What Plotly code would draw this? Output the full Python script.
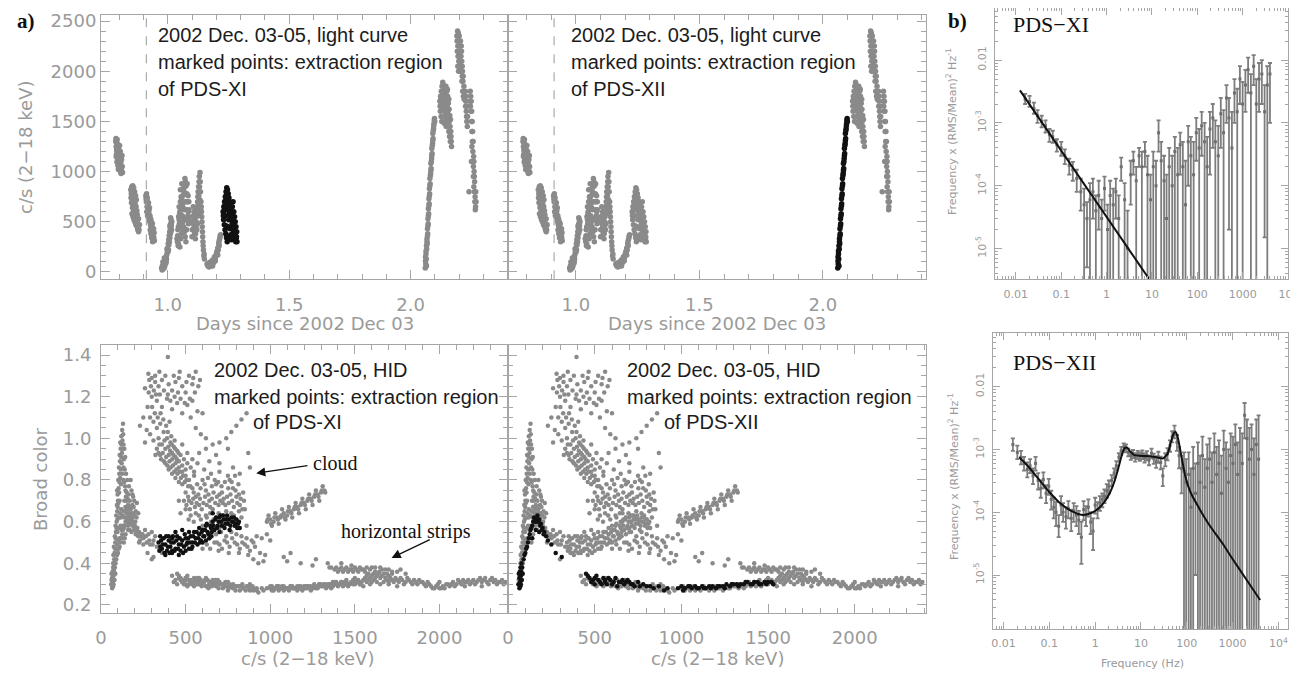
import plotly.graph_objects as go

# The page body adds an 8 px margin, so the figure is 8 px smaller and positions are shifted.
OFF = 8
W, H = 1298 - OFF, 675 - OFF

# ---------------- light curve: (days since 2002 Dec 03, c/s 2-18 keV) ----------------
LC_GRAY_A = [
    (0.787,1330),(0.789,1300),(0.791,1280),(0.788,1250),(0.792,1230),(0.790,1210),(0.794,1190),(0.789,1170),
    (0.796,1150),(0.793,1130),(0.798,1110),(0.791,1095),(0.800,1080),(0.795,1060),(0.803,1040),(0.797,1020),
    (0.806,1000),(0.808,980),(0.810,1120),(0.812,1160),(0.805,1200),(0.802,1260),(0.807,1090),(0.813,1050),
    (0.848,820),(0.852,850),(0.856,860),(0.860,840),(0.864,800),(0.850,780),(0.854,750),(0.858,720),(0.862,700),
    (0.866,680),(0.870,650),(0.851,690),(0.855,640),(0.859,600),(0.863,620),(0.867,580),(0.872,560),(0.857,550),
    (0.861,520),(0.865,500),(0.869,470),(0.874,450),(0.877,420),(0.880,400),(0.875,520),(0.878,480),(0.868,760),
    (0.871,720),(0.853,580),(0.873,610),
    (0.910,760),(0.913,780),(0.916,740),(0.912,700),(0.918,680),(0.915,650),(0.920,620),(0.914,600),(0.922,580),
    (0.917,560),(0.924,530),(0.926,500),(0.929,470),(0.932,450),(0.928,420),(0.935,400),(0.931,380),(0.938,360),
    (0.934,340),(0.940,320),(0.937,480),(0.942,430),(0.944,390),(0.921,690),
    (0.975,40),(0.978,60),(0.981,30),(0.984,80),(0.980,100),(0.987,50),(0.990,120),(0.986,140),(0.993,90),
    (0.996,170),(0.998,200),(1.000,240),(1.002,280),(1.004,320),(1.006,360),(1.008,400),(1.010,440),(1.012,480),
    (1.014,520),(1.007,300),(1.011,380),(1.016,420),(1.009,460),(1.003,220),(0.995,130),
    (1.040,300),(1.043,260),(1.046,350),(1.042,420),(1.048,480),(1.045,550),(1.050,600),(1.047,650),(1.052,700),
    (1.055,750),(1.058,720),(1.061,680),(1.064,640),(1.067,800),(1.070,850),(1.073,900),(1.076,860),(1.079,780),
    (1.082,700),(1.085,600),(1.088,500),(1.060,560),(1.063,500),(1.066,450),(1.069,400),(1.072,350),(1.075,300),
    (1.078,420),(1.081,520),(1.057,380),(1.054,330),(1.084,760),(1.087,620),(1.071,930),
    (1.100,350),(1.103,420),(1.106,480),(1.102,550),(1.108,600),(1.105,650),(1.110,520),(1.112,400),(1.114,330),
    (1.116,450),(1.118,550),(1.121,650),(1.124,750),(1.127,850),(1.130,950),(1.133,990),(1.129,900),(1.135,800),
    (1.137,700),(1.139,600),(1.141,500),(1.143,400),(1.145,300),(1.147,220),(1.149,160),(1.151,130),(1.132,720),
    (1.136,620),(1.126,580),(1.122,480),
    (1.162,80),(1.166,60),(1.170,50),(1.174,70),(1.178,60),(1.182,80),(1.186,100),(1.190,110),(1.194,130),
    (1.198,160),(1.202,200),(1.206,240),(1.210,280),(1.213,320),(1.216,360),(1.168,90),(1.176,100),(1.184,120),
    (1.192,150),(1.200,180),(1.208,220),(1.212,260),
    (2.120,1700),(2.123,1750),(2.126,1800),(2.129,1850),(2.132,1890),(2.135,1860),(2.138,1820),(2.141,1780),
    (2.144,1740),(2.147,1700),(2.150,1650),(2.153,1600),(2.156,1550),(2.159,1500),(2.162,1450),(2.165,1400),
    (2.167,1300),(2.168,1250),(2.122,1600),(2.125,1550),(2.128,1500),(2.131,1650),(2.134,1700),(2.137,1600),
    (2.140,1550),(2.143,1500),(2.146,1450),(2.149,1800),(2.152,1750),(2.155,1680),(2.158,1620),(2.161,1560),
    (2.164,1520),
    (2.190,2350),(2.193,2400),(2.196,2380),(2.199,2300),(2.202,2250),(2.192,2200),(2.195,2150),(2.198,2100),
    (2.201,2050),(2.204,2000),(2.207,2150),(2.210,2100),(2.213,2000),(2.216,1950),(2.219,1850),(2.205,2300),
    (2.208,2250),(2.211,1900),(2.214,1800),(2.217,1750),(2.194,2050),(2.197,2000),
    (2.225,1800),(2.227,1700),(2.229,1600),(2.231,1500),(2.233,1450),(2.226,1650),(2.230,1550),(2.245,1800),
    (2.247,1750),(2.249,1700),(2.251,1600),(2.253,1500),(2.255,1400),(2.257,1300),(2.259,1150),(2.261,1000),
    (2.263,900),(2.265,750),(2.267,650),(2.269,700),(2.256,1200),(2.262,950),(2.240,800),(2.250,1100),(2.258,1050),
]
LC_GRAY_B = [
    (0.786,1300),(0.790,1240),(0.793,1180),(0.796,1100),(0.799,1140),(0.801,1060),(0.804,1010),(0.809,1030),
    (0.811,1000),(0.814,990),(0.788,1150),(0.792,1320),(0.795,1270),(0.799,1220),
    (0.849,740),(0.853,700),(0.857,660),(0.861,640),(0.865,560),(0.869,540),(0.873,500),(0.876,460),(0.879,440),
    (0.882,420),(0.884,470),(0.870,600),(0.866,720),(0.862,760),(0.858,800),(0.855,820),(0.875,570),(0.880,530),
    (0.911,730),(0.915,710),(0.919,650),(0.923,610),(0.927,560),(0.930,530),(0.933,500),(0.936,440),(0.939,410),
    (0.941,370),(0.943,340),(0.945,310),(0.925,640),(0.919,600),(0.930,410),(0.938,300),
    (0.977,20),(0.982,70),(0.985,40),(0.989,70),(0.992,150),(0.994,110),(0.997,230),(1.001,200),(1.005,270),
    (1.009,340),(1.013,400),(1.015,460),(1.017,500),(1.012,540),
    (1.038,330),(1.041,360),(1.044,450),(1.047,520),(1.049,580),(1.051,640),(1.053,560),(1.056,620),(1.059,460),
    (1.062,420),(1.065,540),(1.068,620),(1.071,700),(1.074,780),(1.077,700),(1.080,620),(1.083,560),(1.086,480),
    (1.089,540),(1.075,520),(1.068,860),(1.062,760),(1.052,820),(1.058,880),(1.065,830),(1.080,880),(1.087,700),
    (1.044,280),(1.050,250),
    (1.101,420),(1.104,500),(1.107,560),(1.109,450),(1.111,380),(1.113,600),(1.115,380),(1.117,500),(1.119,600),
    (1.123,700),(1.125,800),(1.128,760),(1.131,850),(1.134,900),(1.138,650),(1.140,550),(1.142,450),(1.144,350),
    (1.146,260),(1.150,180),(1.120,420),(1.127,680),(1.131,620),
    (1.164,70),(1.172,60),(1.180,70),(1.188,90),(1.196,140),(1.204,210),(1.211,300),(1.215,340),(1.218,370),
    (1.206,170),(1.196,110),(1.185,60),
    (2.121,1650),(2.124,1720),(2.127,1680),(2.130,1760),(2.133,1800),(2.136,1740),(2.139,1680),(2.142,1620),
    (2.145,1600),(2.148,1550),(2.151,1500),(2.154,1450),(2.157,1400),(2.160,1350),(2.163,1300),(2.166,1350),
    (2.139,1480),(2.145,1850),(2.151,1820),(2.157,1720),
    (2.191,2300),(2.194,2250),(2.197,2200),(2.200,2150),(2.203,2100),(2.206,2050),(2.209,2000),(2.212,1950),
    (2.215,1900),(2.218,1800),(2.200,2350),(2.196,2300),(2.203,2200),(2.209,2200),(2.212,2050),(2.220,1720),
    (2.228,1750),(2.232,1650),(2.234,1550),(2.246,1650),(2.248,1600),(2.250,1500),(2.252,1400),(2.254,1300),
    (2.256,1100),(2.258,950),(2.260,850),(2.262,800),(2.264,700),(2.266,620),(2.268,800),(2.244,1700),
    (2.252,1250),(2.260,1100),
]
LC_XI = [
    (1.228,600),(1.231,650),(1.234,700),(1.237,750),(1.240,800),(1.243,840),(1.246,820),(1.249,780),(1.252,740),
    (1.255,700),(1.258,650),(1.261,600),(1.264,560),(1.267,520),(1.270,480),(1.273,440),(1.276,400),(1.279,360),
    (1.282,330),(1.230,520),(1.233,470),(1.236,420),(1.239,380),(1.242,340),(1.245,300),(1.248,450),(1.251,520),
    (1.254,580),(1.257,430),(1.260,370),(1.263,320),(1.266,650),(1.269,700),(1.272,600),(1.275,550),(1.278,500),
    (1.281,450),(1.284,400),(1.238,560),(1.244,620),
    (1.229,560),(1.232,610),(1.235,660),(1.238,710),(1.241,760),(1.244,780),(1.247,740),(1.250,700),(1.253,660),
    (1.256,620),(1.259,560),(1.262,520),(1.265,480),(1.268,440),(1.271,400),(1.274,360),(1.277,330),(1.280,300),
    (1.283,350),(1.285,300),(1.240,460),(1.250,350),(1.258,330),(1.268,360),
]
LC_XII = [
    (2.060,40),(2.062,80),(2.064,130),(2.063,180),(2.066,230),(2.068,280),(2.067,330),(2.070,380),(2.069,430),
    (2.072,480),(2.071,530),(2.074,580),(2.073,630),(2.076,680),(2.075,730),(2.078,780),(2.077,830),(2.080,880),
    (2.079,930),(2.082,980),(2.084,1030),(2.083,1080),(2.086,1130),(2.088,1180),(2.087,1230),(2.090,1280),
    (2.092,1330),(2.091,1380),(2.094,1430),(2.096,1480),(2.098,1530),(2.061,150),(2.065,60),
    (2.061,110),(2.063,210),(2.065,260),(2.067,300),(2.069,360),(2.071,460),(2.073,560),(2.075,660),(2.077,760),
    (2.079,860),(2.081,960),(2.083,1010),(2.085,1100),(2.087,1160),(2.089,1260),(2.091,1310),(2.093,1410),
    (2.095,1460),(2.097,1510),(2.099,1500),
]
LC_DASH_DAY = 0.912

# ---------------- HID: (c/s 2-18 keV, broad color) ----------------
HID_SPIKE = [
    (65,0.30),(70,0.32),(68,0.35),(75,0.37),(72,0.40),(78,0.42),(80,0.45),(76,0.48),(84,0.50),(82,0.53),(88,0.55),
    (86,0.58),(92,0.60),(90,0.63),(96,0.65),(94,0.68),(100,0.70),(98,0.73),(104,0.76),(102,0.80),(108,0.83),
    (106,0.86),(112,0.89),(110,0.92),(116,0.95),(114,0.98),(120,1.01),(125,1.04),(130,1.07),(122,0.88),(118,0.78),
    (110,0.70),(105,0.62),(98,0.55),(92,0.47),(86,0.40),(80,0.35),(95,0.75),(128,0.95),(135,0.90),(140,0.85),
    (132,0.80),(145,0.75),(150,0.70),(138,0.70),(155,0.66),(160,0.68),(165,0.64),(170,0.70),(175,0.66),(180,0.62),
    (185,0.68),(190,0.64),(195,0.60),(200,0.58),(205,0.65),(210,0.62),(150,0.60),(160,0.58),(170,0.56),(140,0.62),
    (130,0.58),(125,0.52),(135,0.50),(145,0.54),(120,0.66),(115,0.58),(110,0.52),(180,0.75),(175,0.80),(190,0.72),
    (62,0.32),(67,0.29),(73,0.44),(77,0.39),(83,0.47),(87,0.52),(91,0.57),(93,0.55),(97,0.61),(99,0.67),(103,0.69),
    (107,0.74),(109,0.79),(113,0.81),(117,0.85),(119,0.91),(121,0.97),(124,0.93),(127,0.99),(131,1.02),(126,0.83),
    (133,0.86),(137,0.79),(142,0.77),(147,0.72),(152,0.74),(157,0.71),(163,0.73),(168,0.67),(172,0.61),(178,0.64),
    (183,0.59),(187,0.62),(193,0.67),(198,0.63),(203,0.60),(215,0.57),(225,0.55),(235,0.53),(245,0.54),(212,0.69),
    (220,0.64),(118,0.62),(123,0.56),(128,0.63),(113,0.64),(108,0.57),(102,0.51),(96,0.49),(136,0.65),(144,0.67),
    (152,0.64),(158,0.62),(166,0.60),(174,0.59),(196,0.70),(186,0.73),(165,0.77),(155,0.80),(148,0.83),(143,0.91),
    (138,0.95),(133,0.97),
]
HID_SPRAY = [
    (280,1.31),(300,1.29),(320,1.27),(340,1.25),(360,1.28),(380,1.30),(400,1.26),(420,1.23),(440,1.27),(460,1.29),
    (480,1.25),(500,1.22),(520,1.30),(540,1.26),(560,1.32),(300,1.20),(330,1.18),(360,1.15),(390,1.19),(420,1.14),
    (450,1.17),(480,1.12),(510,1.16),(540,1.18),(570,1.13),(290,1.10),(310,1.08),(330,1.05),(350,1.07),(370,1.03),
    (390,1.00),(410,0.98),(430,0.96),(450,0.94),(470,0.92),(490,0.90),(510,0.88),(530,0.86),(550,0.84),(340,1.00),
    (360,0.97),(380,0.95),(400,0.92),(420,0.90),(440,0.88),(460,0.86),(480,0.84),(500,0.82),(520,0.80),(380,0.88),
    (400,0.85),(420,0.83),(440,0.81),(460,0.79),(420,0.93),(440,0.91),(460,0.89),(480,0.87),(500,0.85),(395,1.39),
    (250,1.10),(270,1.04),(230,1.06),(260,0.98),(600,1.12),(620,1.00),(350,0.92),(330,0.95),
    (340,0.93),(355,0.90),(365,0.93),(372,0.89),(385,0.91),(392,0.87),(405,0.89),(412,0.86),(425,0.87),(433,0.84),
    (445,0.85),(452,0.83),(465,0.84),(472,0.81),(485,0.82),(495,0.79),(505,0.80),(515,0.77),(398,0.96),(408,0.94),
    (418,0.97),(428,0.92),(438,0.95),(448,0.90),(458,0.93),(345,0.97),(375,0.99),(395,1.03),(415,1.01),(435,0.99),
    (302,1.15),(318,1.12),(335,1.10),(352,1.12),(368,1.09),(385,1.06),(405,1.08),(282,1.22),(295,1.25),(312,1.23),
    (325,1.21),(348,1.21),(372,1.23),(395,1.21),(410,1.18),(435,1.20),(455,1.22),(470,1.19),(495,1.17),(525,1.19),
    (555,1.22),(575,1.25),(585,1.28),(545,1.29),(505,1.27),(465,1.32),(430,1.30),(345,1.32),(320,1.30),(285,1.28),
    (260,1.24),(275,1.15),(290,1.02),(310,0.99),(322,0.92),(530,1.10),(560,1.05),(590,1.02),(480,0.97),(510,0.93),
    (540,0.90),(570,0.88),
]
HID_CLOUD = [
    (480,0.78),(500,0.74),(520,0.70),(540,0.76),(560,0.72),(580,0.68),(600,0.80),(620,0.75),(640,0.70),(660,0.66),
    (680,0.78),(700,0.73),(720,0.69),(740,0.65),(760,0.80),(780,0.76),(800,0.72),(820,0.68),(840,0.74),(500,0.66),
    (530,0.63),(560,0.64),(590,0.61),(620,0.63),(650,0.60),(680,0.62),(710,0.60),(740,0.62),(770,0.64),(800,0.61),
    (830,0.62),(610,0.85),(650,0.83),(700,0.84),(750,0.82),(550,0.82),(460,0.70),(470,0.64),(600,0.58),(700,0.57),
    (850,0.66),(860,0.58),
    (490,0.70),(505,0.68),(515,0.72),(525,0.66),(535,0.69),(545,0.71),(555,0.67),(565,0.69),(575,0.73),(585,0.71),
    (595,0.66),(605,0.69),(615,0.72),(625,0.68),(635,0.73),(645,0.67),(655,0.71),(665,0.74),(675,0.69),(685,0.72),
    (695,0.68),(705,0.70),(715,0.74),(725,0.71),(735,0.68),(745,0.72),(755,0.69),(765,0.73),(775,0.70),(785,0.67),
    (795,0.75),(805,0.69),(815,0.73),(825,0.71),(835,0.66),(845,0.70),(612,0.78),(632,0.81),(655,0.77),(672,0.80),
    (692,0.79),(712,0.77),(732,0.79),(752,0.76),(772,0.79),(792,0.82),(812,0.78),(568,0.78),(588,0.76),(548,0.74),
    (528,0.77),(508,0.80),(625,0.62),(645,0.64),(665,0.61),(695,0.64),(725,0.63),(755,0.60),(785,0.63),(815,0.65),
    (578,0.63),(548,0.60),(518,0.61),(700,0.88),(640,0.89),(780,0.86),(820,0.83),
    (250,0.52),(270,0.50),(290,0.49),(310,0.51),(330,0.48),(350,0.47),(300,0.55),(280,0.54),(260,0.56),(640,0.52),
    (670,0.50),(700,0.49),(730,0.51),(760,0.48),(790,0.50),(820,0.47),(850,0.49),(880,0.46),(860,0.52),(830,0.53),
    (800,0.54),(770,0.55),(740,0.53),(710,0.55),(680,0.54),(900,0.50),(920,0.53),(950,0.52),(980,0.54),(1000,0.51),
    (300,0.42),
    (625,0.49),(655,0.53),(685,0.50),(715,0.47),(745,0.50),(775,0.52),(805,0.49),(835,0.50),(865,0.48),(890,0.51),
    (910,0.48),(645,0.47),(695,0.46),(755,0.45),(815,0.45),(870,0.44),(240,0.54),(265,0.53),(285,0.51),(305,0.49),
    (320,0.53),(225,0.50),(360,0.45),(600,0.47),
    (580,0.93),(620,0.95),(660,0.97),(700,0.98),(740,1.00),(770,1.03),(800,1.06),(830,1.09),(860,1.12),(750,0.95),
    (680,0.92),(870,0.93),(880,0.86),
]
HID_BAND = [
    (980,0.60),(1000,0.61),(1020,0.60),(1040,0.62),(1060,0.62),(1080,0.64),(1100,0.63),(1120,0.65),(1140,0.66),
    (1160,0.67),(1180,0.68),(1200,0.69),(1220,0.70),(1240,0.71),(1260,0.72),(1280,0.73),(1300,0.74),(1320,0.75),
    (1010,0.58),(1050,0.59),(1090,0.61),(1130,0.62),(1170,0.64),(1210,0.66),(1250,0.68),(1290,0.70),(990,0.63),
    (1030,0.64),(1070,0.66),(1110,0.67),(1150,0.69),(1190,0.71),(1230,0.73),(1270,0.75),(1310,0.77),
    (985,0.61),(1005,0.59),(1025,0.62),(1045,0.61),(1065,0.63),(1085,0.62),(1105,0.65),(1125,0.64),(1145,0.67),
    (1165,0.66),(1185,0.69),(1205,0.68),(1225,0.71),(1245,0.70),(1265,0.73),(1285,0.72),(1305,0.75),(1325,0.74),
    (900,0.42),(930,0.40),(960,0.41),(940,0.45),(970,0.44),(1080,0.43),(1100,0.41),(1180,0.40),(1270,0.42),
    (1250,0.39),(1350,0.38),(1120,0.45),
]
HID_STRIPS = [
    (420,0.34),(440,0.32),(460,0.33),(480,0.31),(500,0.32),(520,0.30),(540,0.31),(560,0.32),(580,0.30),(600,0.31),
    (620,0.29),(640,0.30),(660,0.31),(680,0.29),(700,0.30),(720,0.28),(740,0.29),(760,0.30),(780,0.28),(800,0.29),
    (820,0.27),(840,0.28),(860,0.29),(880,0.27),(900,0.28),(920,0.27),(950,0.28),(510,0.29),(570,0.33),(630,0.32),
    (690,0.31),(750,0.27),(880,0.30),
    (430,0.31),(450,0.30),(470,0.32),(490,0.30),(505,0.33),(530,0.32),(550,0.29),(575,0.31),(595,0.29),(615,0.32),
    (635,0.28),(655,0.29),(675,0.32),(695,0.28),(715,0.30),(735,0.31),(755,0.28),(775,0.29),(795,0.27),(815,0.29),
    (835,0.30),(855,0.27),(875,0.28),(895,0.29),(930,0.26),(960,0.27),
    (1000,0.28),(1020,0.27),(1040,0.29),(1060,0.28),(1080,0.27),(1100,0.28),(1120,0.29),(1140,0.28),(1160,0.27),
    (1180,0.28),(1200,0.29),(1220,0.28),(1240,0.27),(1260,0.29),(1280,0.28),(1300,0.29),(1320,0.30),(1340,0.29),
    (1360,0.28),(1380,0.30),(1400,0.29),(1420,0.31),(1440,0.30),(1460,0.29),(1480,0.31),(1500,0.30),(1520,0.32),
    (1540,0.31),(1560,0.33),(1580,0.32),(1600,0.34),(1620,0.33),(1640,0.35),(1660,0.34),(1680,0.33),(1700,0.34),
    (1720,0.32),(1740,0.33),(1760,0.31),(1780,0.32),(1800,0.31),(1820,0.32),(1840,0.30),(1860,0.31),(1880,0.32),
    (1900,0.31),(1920,0.29),(1940,0.30),(1960,0.28),(1980,0.29),(2000,0.28),(2020,0.29),(2040,0.30),(2060,0.29),
    (2080,0.31),(2100,0.30),(2120,0.31),(2140,0.32),(2160,0.31),(2180,0.30),(2200,0.32),(2220,0.31),(2240,0.33),
    (2260,0.32),(2280,0.31),(2300,0.32),(2320,0.31),(2340,0.30),(2360,0.31),(2380,0.30),(1550,0.29),(1600,0.31),
    (1650,0.30),(1700,0.31),(1620,0.36),(1660,0.37),(1580,0.35),(1700,0.30),(1750,0.29),(1500,0.33),(1450,0.32),
    (2000,0.31),(2250,0.29),(2150,0.29),
    (1010,0.29),(1030,0.28),(1050,0.27),(1070,0.29),(1090,0.28),(1110,0.27),(1130,0.29),(1150,0.28),(1170,0.29),
    (1190,0.27),(1210,0.28),(1230,0.29),(1250,0.28),(1270,0.28),(1290,0.30),(1310,0.29),(1330,0.28),(1350,0.30),
    (1370,0.29),(1390,0.31),(1410,0.30),(1430,0.29),(1450,0.31),(1470,0.30),(1490,0.32),(1510,0.31),(1530,0.30),
    (1550,0.32),(1570,0.31),(1590,0.33),(1610,0.32),(1630,0.34),(1650,0.33),(1670,0.35),(1690,0.32),(1710,0.33),
    (1730,0.31),(1750,0.32),(1770,0.33),(1790,0.30),(1810,0.33),(1830,0.31),(1850,0.32),(1870,0.30),(1890,0.31),
    (1910,0.30),(1930,0.31),(1950,0.29),(1970,0.28),(1990,0.30),(2010,0.28),(2030,0.28),(2050,0.30),(2070,0.30),
    (2090,0.29),(2110,0.32),(2130,0.30),(2150,0.31),(2170,0.32),(2190,0.31),(2210,0.30),(2230,0.32),(2250,0.31),
    (2270,0.33),(2290,0.30),(2310,0.33),(2330,0.32),(2350,0.31),(2370,0.32),(2390,0.31),(1590,0.30),(1630,0.31),
    (1670,0.31),(1610,0.35),(1645,0.36),(1690,0.35),(1570,0.34),(1720,0.35),
    (1380,0.37),(1400,0.36),(1420,0.38),(1440,0.37),(1460,0.36),(1480,0.37),(1500,0.38),(1520,0.36),(1540,0.37),
    (1560,0.36),(1600,0.38),(1700,0.37),(1750,0.36),(1800,0.35),(1340,0.40),(1360,0.38),
    (1390,0.38),(1410,0.37),(1430,0.36),(1450,0.38),(1470,0.37),(1490,0.36),(1510,0.37),(1530,0.38),(1550,0.37),
    (1570,0.38),(1590,0.37),(1620,0.38),(1650,0.38),(1680,0.37),(1720,0.36),(1770,0.37),(1480,0.39),(1420,0.40),
]
HID_XI = [
    (340,0.50),(350,0.48),(360,0.47),(370,0.52),(380,0.49),(390,0.46),(400,0.51),(410,0.48),(420,0.45),(430,0.50),
    (440,0.47),(450,0.53),(460,0.49),(470,0.46),(480,0.51),(490,0.48),(500,0.52),(510,0.50),(520,0.47),(530,0.53),
    (540,0.50),(550,0.55),(560,0.52),(570,0.49),(580,0.54),(590,0.51),(600,0.56),(610,0.53),(620,0.58),(630,0.55),
    (640,0.52),(650,0.57),(660,0.60),(670,0.56),(680,0.62),(690,0.58),(700,0.55),(710,0.60),(720,0.63),(730,0.57),
    (740,0.61),(750,0.59),(760,0.56),(770,0.62),(780,0.60),(790,0.58),(800,0.61),(810,0.59),(820,0.57),(380,0.44),
    (420,0.46),(460,0.44),(500,0.46),(540,0.48),(400,0.53),(440,0.55),(480,0.56),(350,0.53),(600,0.50),(650,0.53),
    (700,0.62),(660,0.64),(420,0.52),(520,0.55),(580,0.57),(620,0.51),
    (345,0.46),(355,0.51),(365,0.49),(375,0.45),(385,0.53),(395,0.48),(405,0.45),(415,0.50),(425,0.53),(435,0.46),
    (445,0.51),(455,0.47),(465,0.52),(475,0.49),(485,0.45),(495,0.54),(505,0.49),(515,0.52),(525,0.50),(535,0.47),
    (545,0.53),(555,0.50),(565,0.55),(575,0.52),(585,0.50),(595,0.55),(605,0.53),(615,0.56),(625,0.59),(635,0.54),
    (645,0.58),(655,0.55),(665,0.58),(675,0.61),(685,0.57),(695,0.60),(705,0.63),(715,0.58),(725,0.61),(735,0.59),
    (745,0.63),(755,0.61),(765,0.58),(775,0.60),(785,0.62),(795,0.59),(805,0.57),(815,0.60),
]
HID_XII = [
    (60,0.30),(65,0.33),(70,0.31),(68,0.36),(75,0.34),(72,0.38),(80,0.32),(78,0.40),(85,0.35),(90,0.42),(100,0.45),
    (110,0.48),(120,0.52),(130,0.56),(140,0.58),(150,0.62),(160,0.60),(170,0.63),(180,0.61),(190,0.59),(200,0.57),
    (210,0.55),(220,0.53),(160,0.56),(140,0.52),(250,0.49),(310,0.43),(180,0.55),(450,0.35),(470,0.33),(490,0.32),
    (510,0.34),(530,0.31),(550,0.33),(570,0.30),(590,0.32),(610,0.31),(630,0.29),(650,0.31),(670,0.30),(690,0.32),
    (710,0.30),(730,0.29),(750,0.31),(780,0.30),(800,0.29),(840,0.28),(870,0.29),(900,0.27),(920,0.28),(980,0.28),
    (1000,0.29),(1020,0.28),(1040,0.29),(1060,0.28),(1080,0.29),(1100,0.28),(1120,0.29),(1140,0.28),(1160,0.29),
    (1180,0.29),(1200,0.28),(1220,0.29),(1240,0.29),(1260,0.30),(1280,0.29),(1300,0.30),(1320,0.30),(1340,0.30),
    (1360,0.30),(1380,0.31),(1400,0.30),(1420,0.31),(1440,0.31),(1460,0.30),(1480,0.31),(1500,0.31),(1520,0.31),
    (500,0.30),(560,0.32),(620,0.33),(680,0.31),
    (62,0.35),(66,0.28),(71,0.29),(74,0.30),(77,0.36),(82,0.38),(95,0.44),(105,0.47),(115,0.50),(125,0.54),
    (135,0.57),(145,0.60),(155,0.61),(165,0.62),(175,0.60),(185,0.58),(195,0.56),(205,0.54),(230,0.51),(275,0.45),
    (460,0.34),(480,0.31),(500,0.33),(520,0.32),(540,0.30),(560,0.31),(580,0.33),(600,0.30),(640,0.31),(660,0.32),
    (700,0.31),(720,0.30),(760,0.29),(820,0.29),(1010,0.27),(1050,0.29),(1090,0.28),(1130,0.28),(1170,0.28),
    (1210,0.29),(1250,0.28),(1290,0.30),(1330,0.29),(1370,0.31),(1410,0.30),(1450,0.30),(1490,0.30),(1530,0.30),
]

# ---------------- power density spectra: (freq Hz, power, lower, upper) ----------------
PDS_XI = [
    (0.016,2.4e-3,2.0e-3,2.9e-3),(0.02,2.2e-3,1.8e-3,2.7e-3),(0.025,1.7e-3,1.4e-3,2.1e-3),(0.03,1.3e-3,1.0e-3,1.6e-3),
    (0.037,1.05e-3,8.5e-4,1.3e-3),(0.045,9e-4,7e-4,1.1e-3),(0.055,6.5e-4,5e-4,8e-4),(0.065,6e-4,4.8e-4,7.5e-4),
    (0.08,4.5e-4,3.5e-4,5.5e-4),(0.1,4.0e-4,3.0e-4,5.0e-4),(0.12,3.0e-4,2.2e-4,3.8e-4),(0.15,2.1e-4,1.5e-4,2.7e-4),
    (0.18,1.8e-4,1.2e-4,2.4e-4),(0.22,1.3e-4,8e-5,1.8e-4),(0.27,8e-5,4e-5,1.3e-4),
    (0.32,5e-5,1e-7,9e-5),(0.37,3e-5,5e-6,5.5e-5),(0.43,6e-5,1e-7,1.1e-4),(0.5,8e-5,3e-5,1.3e-4),(0.58,4e-5,1e-7,7e-5),
    (0.67,7e-5,2e-5,1.2e-4),(0.78,3e-5,1e-7,6e-5),(0.9,9e-5,4e-5,1.4e-4),(1.05,2e-5,1e-7,5e-5),(1.2,7e-5,1e-7,1.2e-4),
    (1.4,5e-5,1e-7,9e-5),(1.6,8e-5,3e-5,1.3e-4),(1.85,3e-5,1e-7,7e-5),(2.1,2.0e-4,1.2e-4,2.8e-4),(2.5,6e-5,1e-7,1.1e-4),
    (2.9,1e-5,1e-7,4e-5),(3.4,1.5e-4,5e-5,2.5e-4),(3.9,2.5e-4,1.5e-4,3.5e-4),(4.5,1.2e-4,1e-7,2e-4),(5.2,3e-4,2e-4,4e-4),
    (6.0,2e-4,1e-7,3.5e-4),(7.0,3.5e-4,2e-4,5e-4),(8.0,1.5e-4,1e-7,3e-4),(9.3,6e-5,1e-7,1.5e-4),(10.7,2e-4,1e-7,3.5e-4),
    (12.3,1e-4,1e-7,2.5e-4),(14,7e-4,3.5e-4,1.1e-3),(16,2.5e-4,1e-7,5e-4),(18.5,1.2e-4,1e-7,3e-4),(21,3e-5,1e-7,1.5e-4),
    (24,2e-4,1e-7,4e-4),(28,1e-4,1e-7,3e-4),(32,3.5e-4,1e-7,6e-4),(37,1.5e-4,1e-7,4e-4),(42,4.5e-4,1.5e-4,7e-4),
    (48,2e-4,1e-7,5e-4),(55,5e-5,1e-7,2.5e-4),(63,5e-4,1e-4,9e-4),(72,3e-4,1e-7,6e-4),(83,1.5e-4,1e-7,5e-4),
    (95,7e-4,2.5e-4,1.2e-3),(110,4e-4,1e-7,8e-4),(125,9e-4,3e-4,1.5e-3),(145,5e-4,1e-7,1e-3),(165,2e-4,1e-7,6e-4),
    (190,8e-4,1.5e-4,1.5e-3),(220,1.2e-3,4e-4,2e-3),(250,5e-4,1e-7,1.1e-3),(290,3e-4,1e-7,9e-4),(330,1.4e-3,4e-4,2.5e-3),
    (380,7e-4,1e-7,1.6e-3),(440,2.5e-3,1e-3,4e-3),(500,1.2e-3,2e-5,2.5e-3),(580,4e-4,1e-7,1.5e-3),(660,3e-3,1e-3,5e-3),
    (760,1.5e-3,1e-7,3.5e-3),(870,5e-3,2e-3,8e-3),(1000,2e-3,1e-7,4.5e-3),(1150,4e-3,1.5e-3,7e-3),(1320,7e-3,3e-3,1.1e-2),
    (1520,3e-3,1e-7,6e-3),(1750,8e-3,4e-3,1.2e-2),(2000,2e-3,1e-7,5e-3),(2300,5e-3,1.5e-3,9e-3),(2650,6e-3,2e-3,1e-2),
    (3050,1.5e-3,1.5e-5,4e-3),(3500,4e-3,1e-7,8e-3),(4000,6e-3,1e-3,9e-3),
]
FIT_XI = [(0.0123,3.3e-3),(8.6,3.3e-6)]

PDS_XII = [
    (0.016,1.2e-3,9.5e-4,1.5e-3),(0.02,9e-4,7e-4,1.15e-3),(0.024,7.5e-4,5.8e-4,9.5e-4),(0.028,6e-4,4.6e-4,7.6e-4),
    (0.033,4.8e-4,3.6e-4,6.2e-4),(0.038,5.5e-4,4.2e-4,7e-4),(0.044,3.8e-4,2.8e-4,5e-4),(0.05,6e-4,4.6e-4,7.6e-4),
    (0.057,3.2e-4,2.3e-4,4.2e-4),(0.065,2.4e-4,1.7e-4,3.2e-4),(0.074,3.3e-4,2.4e-4,4.3e-4),(0.085,2.0e-4,1.4e-4,2.7e-4),
    (0.097,2.6e-4,1.9e-4,3.4e-4),(0.11,1.6e-4,1.1e-4,2.2e-4),(0.125,1.2e-4,8e-5,1.7e-4),(0.14,1.0e-4,6e-5,1.45e-4),
    (0.16,6e-5,4e-5,9e-5),(0.18,1.3e-4,9e-5,1.8e-4),(0.2,1.0e-4,7e-5,1.4e-4),(0.23,8.5e-5,5.5e-5,1.2e-4),
    (0.26,1.15e-4,8e-5,1.5e-4),(0.3,8e-5,5e-5,1.1e-4),(0.34,1.05e-4,7e-5,1.4e-4),(0.39,9e-5,6e-5,1.25e-4),
    (0.44,7.5e-5,4.5e-5,1.05e-4),(0.5,4e-5,1.5e-5,7e-5),(0.56,1.1e-4,7.5e-5,1.5e-4),(0.63,9e-5,6e-5,1.25e-4),
    (0.71,1.2e-4,8.5e-5,1.6e-4),(0.8,7e-5,4.5e-5,1e-4),(0.9,5e-5,2.5e-5,8e-5),(1.0,1.3e-4,9.5e-5,1.7e-4),
    (1.13,1.1e-4,8e-5,1.45e-4),(1.27,1.4e-4,1.05e-4,1.8e-4),(1.43,1.6e-4,1.2e-4,2e-4),(1.6,1.8e-4,1.4e-4,2.3e-4),
    (1.8,2.2e-4,1.7e-4,2.8e-4),(2.0,2.6e-4,2.0e-4,3.2e-4),(2.3,3.2e-4,2.6e-4,3.9e-4),(2.6,4.2e-4,3.5e-4,5e-4),
    (2.9,5.5e-4,4.6e-4,6.5e-4),(3.3,7.5e-4,6.4e-4,8.7e-4),(3.7,9.5e-4,8.2e-4,1.1e-3),(4.2,1.1e-3,9.6e-4,1.25e-3),
    (4.7,1.05e-3,9e-4,1.2e-3),(5.3,9e-4,7.8e-4,1.03e-3),(6.0,8e-4,6.8e-4,9.2e-4),(6.7,8.5e-4,7.3e-4,9.8e-4),
    (7.5,7.5e-4,6.4e-4,8.7e-4),(8.5,8.2e-4,7e-4,9.5e-4),(9.5,7.8e-4,6.6e-4,9e-4),(10.7,8.3e-4,7e-4,9.7e-4),
    (12,7.4e-4,6.2e-4,8.7e-4),(13.5,8e-4,6.7e-4,9.4e-4),(15,6.8e-4,5.6e-4,8e-4),(17,8.7e-4,7.2e-4,1.03e-3),
    (19,7.2e-4,5.9e-4,8.6e-4),(21.5,6.4e-4,5.1e-4,7.8e-4),(24,7.6e-4,6.1e-4,9.2e-4),(27,6.2e-4,4.8e-4,7.7e-4),
    (30,3.8e-4,2.6e-4,5e-4),(34,7e-4,5.4e-4,8.7e-4),(38,8.5e-4,6.7e-4,1.05e-3),(43,1.15e-3,9.2e-4,1.4e-3),
    (48,1.6e-3,1.3e-3,1.95e-3),(54,1.9e-3,1.5e-3,2.4e-3),(61,1.3e-3,9.5e-4,1.7e-3),(68,8e-4,5e-4,1.1e-3),
    (77,5e-4,2e-4,8e-4),(87,4.5e-4,1e-7,9e-4),(97,3e-4,1e-7,7e-4),(110,4e-4,1e-7,9e-4),(123,1.2e-4,1e-7,5e-4),
    (138,5e-4,1e-7,1.1e-3),(155,2e-4,1e-5,6e-4),(175,6e-4,1e-7,1.3e-3),(195,3e-4,1e-7,8e-4),(220,8e-4,1e-7,1.6e-3),
    (248,2.5e-4,1e-7,7e-4),(280,5e-4,1e-7,1.2e-3),(315,7e-4,1e-7,1.5e-3),(355,3e-4,1e-7,9e-4),(400,9e-4,1e-7,1.8e-3),
    (450,4e-4,1e-7,1.1e-3),(505,6e-4,1e-7,1.4e-3),(570,2e-4,1e-7,8e-4),(640,1.0e-3,1e-7,2e-3),(720,5e-4,1e-7,1.3e-3),
    (810,3e-4,1e-7,1e-3),(910,8e-4,1e-7,1.8e-3),(1020,6e-4,1e-7,1.6e-3),(1150,1.2e-3,1e-7,2.5e-3),(1290,4e-4,1e-7,1.3e-3),
    (1450,9e-4,1e-7,2.2e-3),(1630,6e-4,1e-7,1.8e-3),(1830,3.5e-3,1.5e-3,5.5e-3),(2060,1.5e-3,1e-7,3e-3),
    (2320,7e-4,1e-7,2.2e-3),(2600,1e-3,1e-7,2.5e-3),(2930,4e-4,1e-7,1.5e-3),(3300,1.2e-3,1e-7,3e-3),(3700,7e-4,1e-7,3.5e-3),
]
FIT_XII = [
    (0.022,7.5e-4),(0.035,5.3e-4),(0.06,3.3e-4),(0.1,2.1e-4),(0.17,1.4e-4),(0.3,1.05e-4),(0.55,9e-5),(0.9,1.0e-4),
    (1.4,1.3e-4),(2.0,1.9e-4),(2.6,3.0e-4),(3.2,5.0e-4),(3.8,8.0e-4),(4.4,1.05e-3),(5.0,1.07e-3),(5.8,9.3e-4),
    (7.0,8.2e-4),(10,7.9e-4),(15,7.8e-4),(22,7.5e-4),(30,7.2e-4),(38,8.5e-4),(45,1.3e-3),(52,1.8e-3),(57,1.9e-3),
    (63,1.6e-3),(70,1.1e-3),(80,6.5e-4),(95,3.5e-4),(120,2.1e-4),(170,1.3e-4),(300,6.5e-5),(600,3.2e-5),
    (1000,1.8e-5),(2000,8.5e-6),(4000,4e-6),
]

LC_YTICKS = [0, 500, 1000, 1500, 2000, 2500]
LC_XTICKS = [1.0, 1.5, 2.0]
HID_YTICKS = [0.2, 0.4, 0.6, 0.8, 1.0, 1.2, 1.4]
HID_XTICKS = [0, 500, 1000, 1500, 2000]
PDS_XTICKS = [0.01, 0.1, 1, 10, 100, 1000, 10000]
PDS_XTEXT = ["0.01", "0.1", "1", "10", "100", "1000", "10<sup>4</sup>"]
PDS_YTICKS = [1e-2, 1e-3, 1e-4, 1e-5]
PDS_YTEXT = ["0.01", "10<sup>-3</sup>", "10<sup>-4</sup>", "10<sup>-5</sup>"]

LC_GRAY = LC_GRAY_A + LC_GRAY_B
HID_GRAY = HID_SPIKE + HID_SPRAY + HID_CLOUD + HID_BAND + HID_STRIPS

# ---------------- styling ----------------
GRAY = "#8a8a8a"
BLACK = "#111111"
AXC = "#a6a6a6"
TICKC = "#9a9a9a"
SANS = "DejaVu Sans"


def PX(px):
    return (px - OFF) / W


def PY(py):
    return 1 - (py - OFF) / H


def xs(pts):
    return [p[0] for p in pts]


def ys(pts):
    return [p[1] for p in pts]


fig = go.Figure()


def scatter(pts, color, size, xa, ya):
    fig.add_trace(go.Scatter(x=xs(pts), y=ys(pts), mode="markers", xaxis=xa, yaxis=ya,
                             marker=dict(color=color, size=size, line=dict(width=0)),
                             showlegend=False, hoverinfo="skip"))


scatter(LC_GRAY + LC_XII, GRAY, 5.5, "x", "y")
scatter(LC_XI, BLACK, 5.5, "x", "y")
scatter(LC_GRAY + LC_XI, GRAY, 5.5, "x2", "y2")
scatter(LC_XII, BLACK, 5.5, "x2", "y2")
scatter(HID_GRAY + HID_XII, GRAY, 4.5, "x3", "y3")
scatter(HID_XI, BLACK, 4.5, "x3", "y3")
scatter(HID_GRAY + HID_XI, GRAY, 4.5, "x4", "y4")
scatter(HID_XII, BLACK, 4.5, "x4", "y4")


def pds(data, fit, xa, ya, spline):
    f = [d[0] for d in data]
    p = [d[1] for d in data]
    up = [d[3] - d[1] for d in data]
    dn = [d[1] - d[2] for d in data]
    fig.add_trace(go.Scatter(x=f, y=p, mode="markers", xaxis=xa, yaxis=ya,
                             marker=dict(color="#6e6e6e", size=3, symbol="square"),
                             error_y=dict(type="data", symmetric=False, array=up, arrayminus=dn,
                                          color="#7d7d7d", thickness=1.8, width=2),
                             showlegend=False, hoverinfo="skip"))
    fig.add_trace(go.Scatter(x=xs(fit), y=ys(fit), mode="lines", xaxis=xa, yaxis=ya,
                             line=dict(color="#111111", width=2, shape="spline" if spline else "linear",
                                       smoothing=0.6),
                             showlegend=False, hoverinfo="skip"))


pds(PDS_XI, FIT_XI, "x5", "y5", False)
pds(PDS_XII, FIT_XII, "x6", "y6", True)

base = dict(showline=True, linecolor=AXC, linewidth=1, mirror="allticks", ticks="inside",
            ticklen=9, tickcolor=AXC, tickwidth=1, showgrid=False, zeroline=False, automargin=False,
            tickfont=dict(family=SANS, size=18, color=TICKC))


def lin_axis(domain, anchor, rng, tickvals, minor_dtick, show_labels=True, fmt=None, standoff=8):
    d = dict(base)
    d.update(domain=domain, anchor=anchor, range=rng, tickmode="array", tickvals=tickvals,
             showticklabels=show_labels, ticklabelstandoff=standoff,
             minor=dict(ticks="inside", ticklen=5, tickcolor=AXC, dtick=minor_dtick, tick0=0, showgrid=False))
    if fmt:
        d["tickformat"] = fmt
    return d


PDS_XMINOR = [m * 10 ** e for e in range(-3, 4) for m in range(2, 10)]
PDS_YMINOR = [m * 10 ** e for e in range(-6, -1) for m in range(2, 10)]


def log_axis(domain, anchor, rng, tickvals, ticktext, is_y):
    d = dict(base)
    d.update(domain=domain, anchor=anchor, type="log", range=rng, tickmode="array",
             tickvals=tickvals, ticktext=ticktext, ticklen=7,
             tickfont=dict(family=SANS, size=11, color=TICKC), ticklabelstandoff=4,
             minor=dict(ticks="inside", ticklen=3, tickcolor=AXC, tickmode="array",
                        tickvals=PDS_YMINOR if is_y else PDS_XMINOR, showgrid=False))
    if is_y:
        d["tickangle"] = -90
    return d


top_y = [PY(279.3), PY(15)]
bot_y = [PY(613.3), PY(345)]
left_x = [PX(101), PX(508)]
right_x = [PX(508), PX(925.7)]

fig.update_layout(
    xaxis=lin_axis(left_x, "y", [0.7255, 2.4005], LC_XTICKS, 0.1, fmt=".1f", standoff=9),
    yaxis=lin_axis(top_y, "x", [-73, 2560], LC_YTICKS, 100, standoff=0),
    xaxis2=lin_axis(right_x, "y2", [0.7255, 2.416], LC_XTICKS, 0.1, fmt=".1f", standoff=9),
    yaxis2=lin_axis(top_y, "x2", [-73, 2560], LC_YTICKS, 100, show_labels=False),
    xaxis3=lin_axis(left_x, "y3", [0, 2405], HID_XTICKS, 100, standoff=8),
    yaxis3=lin_axis(bot_y, "x3", [0.160, 1.448], HID_YTICKS, 0.05, fmt=".1f", standoff=5),
    xaxis4=lin_axis(right_x, "y4", [0, 2409], HID_XTICKS, 100, standoff=8),
    yaxis4=lin_axis(bot_y, "x4", [0.160, 1.448], HID_YTICKS, 0.05, show_labels=False),
    xaxis5=log_axis([PX(995), PX(1288)], "y5", [-2.46, 4.0], PDS_XTICKS, PDS_XTEXT, False),
    yaxis5=log_axis([PY(279.3), 1.0], "x5", [-5.49, -1.17], PDS_YTICKS, PDS_YTEXT, True),
    xaxis6=log_axis([PX(993), PX(1288)], "y6", [-2.23, 4.21], PDS_XTICKS, PDS_XTEXT, False),
    yaxis6=log_axis([PY(629), PY(333)], "x6", [-5.86, -1.145], PDS_YTICKS, PDS_YTEXT, True),
)

for xr, yr in (("x", "y domain"), ("x2", "y2 domain")):
    fig.add_shape(type="line", xref=xr, yref=yr, x0=LC_DASH_DAY, x1=LC_DASH_DAY, y0=0, y1=1,
                  line=dict(color="#9a9a9a", width=1, dash="dash"))

ann = []


def text(px, py, s, size=20, color="#1c1c1c", family="Liberation Sans", xanchor="left", angle=0, yanchor="middle"):
    ann.append(dict(x=PX(px), y=PY(py), xref="paper", yref="paper", text=s, showarrow=False,
                    xanchor=xanchor, yanchor=yanchor, textangle=angle, borderpad=0,
                    font=dict(family=family, size=size, color=color)))


text(157, 35, "2002 Dec. 03-05, light curve")
text(157, 62, "marked points: extraction region")
text(157, 89, "of PDS-XI")
text(570, 35, "2002 Dec. 03-05, light curve")
text(570, 62, "marked points: extraction region")
text(570, 89, "of PDS-XII")
text(213, 370, "2002 Dec. 03-05, HID")
text(213, 397, "marked points: extraction region")
text(252, 422, "of PDS-XI")
text(626, 370, "2002 Dec. 03-05, HID")
text(626, 397, "marked points: extraction region")
text(663, 422, "of PDS-XII")

text(26, 8, "<b>a)</b>", size=21, color="#111", family="Liberation Serif", xanchor="center", yanchor="top")
text(957, 8, "<b>b)</b>", size=21, color="#111", family="Liberation Serif", xanchor="center", yanchor="top")
text(1012, 25, "PDS−XI", size=22, color="#111", family="Liberation Serif")
text(1012, 362, "PDS−XII", size=22, color="#111", family="Liberation Serif")

text(312, 463, "cloud", size=20, color="#111", family="Liberation Serif")
text(340, 531, "horizontal strips", size=20, color="#111", family="Liberation Serif")

text(26, 148, "c/s (2−18 keV)", size=18, color=TICKC, family=SANS, xanchor="center", angle=-90)
text(305, 323, "Days since 2002 Dec 03", size=18, color=TICKC, family=SANS, xanchor="center")
text(717, 323, "Days since 2002 Dec 03", size=18, color=TICKC, family=SANS, xanchor="center")
text(40, 480, "Broad color", size=18, color=TICKC, family=SANS, xanchor="center", angle=-90)
text(307, 658, "c/s (2−18 keV)", size=18, color=TICKC, family=SANS, xanchor="center")
text(717, 658, "c/s (2−18 keV)", size=18, color=TICKC, family=SANS, xanchor="center")
text(952, 132, "Frequency x (RMS/Mean)<sup>2</sup> Hz<sup>-1</sup>", size=11, color=TICKC, family=SANS,
     xanchor="center", angle=-90)
text(953, 477, "Frequency x (RMS/Mean)<sup>2</sup> Hz<sup>-1</sup>", size=11, color=TICKC, family=SANS,
     xanchor="center", angle=-90)
text(1142, 663, "Frequency (Hz)", size=11, color=TICKC, family=SANS, xanchor="center")

ann.append(dict(x=917, y=0.832, ax=1229, ay=0.87, xref="x3", yref="y3", axref="x3", ayref="y3",
                text="", showarrow=True, arrowhead=2, arrowsize=1.4, arrowwidth=1.3, arrowcolor="#111"))
ann.append(dict(x=1717, y=0.426, ax=1952, ay=0.517, xref="x3", yref="y3", axref="x3", ayref="y3",
                text="", showarrow=True, arrowhead=2, arrowsize=1.4, arrowwidth=1.3, arrowcolor="#111"))

fig.update_layout(annotations=ann, width=W, height=H, autosize=False,
                  margin=dict(l=0, r=0, t=0, b=0),
                  paper_bgcolor="white", plot_bgcolor="white")

fig.write_html("out.html")
